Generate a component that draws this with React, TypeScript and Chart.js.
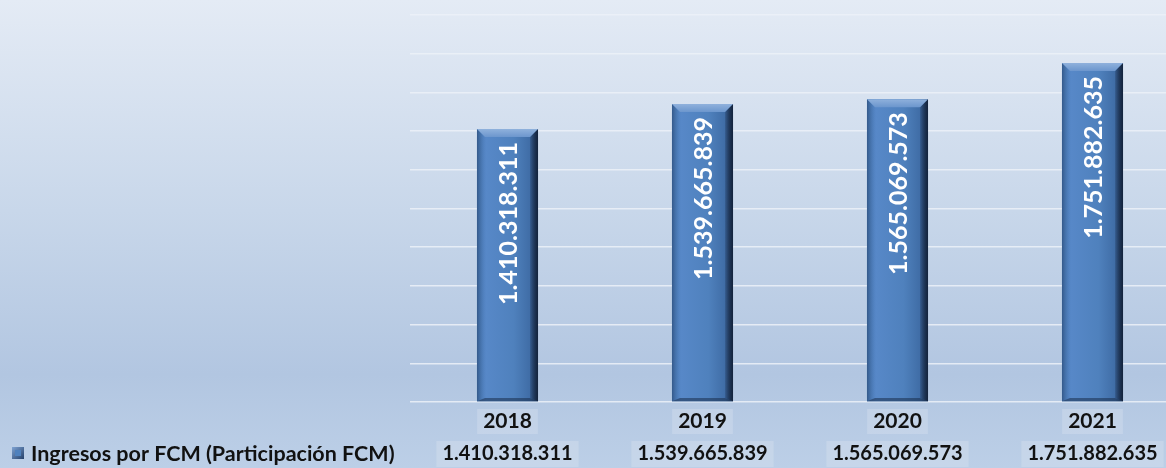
import React, { useEffect, useRef } from "react";
import { Chart, registerables } from "chart.js";

Chart.register(...registerables);

const categories = ["2018", "2019", "2020", "2021"];
const seriesLabel = "Ingresos por FCM (Participación FCM)";
const values = [1410318311, 1539665839, 1565069573, 1751882635];
const yMax = 2000000000;
const yStep = 200000000;

const FONT = "Lato, 'Open Sans', sans-serif";

function fmt(v: number): string {
  return String(Math.round(v)).replace(/\B(?=(\d{3})+(?!\d))/g, ".");
}

const bgPlugin = {
  id: "bgGrad",
  beforeDraw(chart: any) {
    const { ctx, width, height } = chart;
    const g = ctx.createLinearGradient(0, 0, 0, height);
    g.addColorStop(0, "#E4EBF5");
    g.addColorStop(0.45, "#C8D7EA");
    g.addColorStop(0.8, "#B2C6E1");
    g.addColorStop(1, "#BCCFE7");
    ctx.save();
    ctx.fillStyle = g;
    ctx.fillRect(0, 0, width, height);
    ctx.restore();
  },
};

const bevelPlugin = {
  id: "bevel",
  afterDatasetsDraw(chart: any) {
    const { ctx } = chart;
    const meta = chart.getDatasetMeta(0);
    ctx.save();
    meta.data.forEach((bar: any, i: number) => {
      const w = bar.width;
      const l = bar.x - w / 2;
      const r = bar.x + w / 2;
      const t = bar.y;
      const b = bar.base;
      const bv = 8;
      const fg = ctx.createLinearGradient(l, 0, r, 0);
      fg.addColorStop(0, "#4473AE");
      fg.addColorStop(0.15, "#5788C8");
      fg.addColorStop(0.6, "#4F81BD");
      fg.addColorStop(0.88, "#3F6CA5");
      fg.addColorStop(1, "#1E3556");
      ctx.fillStyle = fg;
      ctx.fillRect(l, t, w, b - t);
      const lg = ctx.createLinearGradient(l, 0, l + bv, 0);
      lg.addColorStop(0, "#34598A");
      lg.addColorStop(1, "rgba(79,129,189,0)");
      ctx.fillStyle = lg;
      ctx.beginPath();
      ctx.moveTo(l, t);
      ctx.lineTo(l + bv, t + bv);
      ctx.lineTo(l + bv, b - bv * 0.4);
      ctx.lineTo(l, b);
      ctx.closePath();
      ctx.fill();
      const rg = ctx.createLinearGradient(r - bv, 0, r, 0);
      rg.addColorStop(0, "rgba(30,52,86,0.3)");
      rg.addColorStop(1, "#14243D");
      ctx.fillStyle = rg;
      ctx.beginPath();
      ctx.moveTo(r, t);
      ctx.lineTo(r - bv, t + bv);
      ctx.lineTo(r - bv, b - bv * 0.4);
      ctx.lineTo(r, b);
      ctx.closePath();
      ctx.fill();
      const tg = ctx.createLinearGradient(0, t, 0, t + bv);
      tg.addColorStop(0, "#8FB1DC");
      tg.addColorStop(1, "#6C96CD");
      ctx.fillStyle = tg;
      ctx.beginPath();
      ctx.moveTo(l, t);
      ctx.lineTo(r, t);
      ctx.lineTo(r - bv, t + bv);
      ctx.lineTo(l + bv, t + bv);
      ctx.closePath();
      ctx.fill();
      ctx.fillStyle = "rgba(25,45,75,0.55)";
      ctx.beginPath();
      ctx.moveTo(l, b);
      ctx.lineTo(r, b);
      ctx.lineTo(r - bv, b - bv * 0.4);
      ctx.lineTo(l + bv, b - bv * 0.4);
      ctx.closePath();
      ctx.fill();

      ctx.save();
      ctx.translate(bar.x + 1, t + 13);
      ctx.rotate(-Math.PI / 2);
      ctx.font = `bold 25px ${FONT}`;
      ctx.fillStyle = "#FFFFFF";
      ctx.textAlign = "right";
      ctx.textBaseline = "middle";
      ctx.fillText(fmt(values[i]), 0, 0);
      ctx.restore();
    });
    ctx.restore();
  },
};

const tablePlugin = {
  id: "dataTable",
  afterDraw(chart: any) {
    const { ctx } = chart;
    const xs = chart.scales.x;
    ctx.save();
    ctx.textAlign = "center";
    ctx.textBaseline = "middle";
    categories.forEach((c, i) => {
      const x = xs.getPixelForValue(i);
      ctx.font = `bold 21px ${FONT}`;
      const wy = ctx.measureText(c).width;
      ctx.fillStyle = "rgba(225,233,243,0.3)";
      ctx.fillRect(x - wy / 2 - 6, 409, wy + 12, 25);
      ctx.fillStyle = "#111111";
      ctx.fillText(c, x, 421);
      const s = fmt(values[i]);
      ctx.font = `bold 20px ${FONT}`;
      const wv = ctx.measureText(s).width;
      ctx.fillStyle = "rgba(225,233,243,0.3)";
      ctx.fillRect(x - wv / 2 - 6, 441, wv + 12, 26);
      ctx.fillStyle = "#111111";
      ctx.fillText(s, x, 454);
    });
    const kx = 12, ky = 447, ks = 12;
    const kg = ctx.createLinearGradient(kx, ky, kx + ks, ky + ks);
    kg.addColorStop(0, "#7FA3D3");
    kg.addColorStop(1, "#24406A");
    ctx.fillStyle = kg;
    ctx.fillRect(kx, ky, ks, ks);
    ctx.fillStyle = "#4F81BD";
    ctx.fillRect(kx + 3, ky + 3, ks - 6, ks - 6);
    ctx.textAlign = "left";
    ctx.font = `bold 21.5px ${FONT}`;
    ctx.fillStyle = "#111111";
    ctx.fillText(seriesLabel, 31, 454);
    ctx.restore();
  },
};

export default function App() {
  const ref = useRef<HTMLCanvasElement | null>(null);
  useEffect(() => {
    const canvas = ref.current;
    if (!canvas) return;
    const chart = new Chart(canvas, {
      type: "bar",
      data: {
        labels: categories,
        datasets: [
          {
            label: seriesLabel,
            data: values,
            backgroundColor: "#4F81BD",
            borderWidth: 0,
            barPercentage: 0.313,
            categoryPercentage: 1,
          },
        ],
      },
      options: {
        responsive: false,
        animation: false,
        devicePixelRatio: 1,
        layout: { padding: { left: 410, top: 15, right: 1, bottom: 0 } },
        plugins: {
          legend: { display: false },
          tooltip: { enabled: false },
        },
        scales: {
          x: {
            grid: { display: false },
            border: { display: false },
            ticks: { display: false },
            afterFit(scale: any) {
              scale.height = 66;
            },
          },
          y: {
            min: 0,
            max: yMax,
            ticks: { display: false, stepSize: yStep },
            border: { display: false },
            grid: { color: "rgba(236,241,248,0.85)", lineWidth: 1.6, drawTicks: false },
            afterFit(scale: any) {
              scale.width = 0;
            },
          },
        },
      },
      plugins: [bgPlugin, bevelPlugin, tablePlugin],
    });
    return () => chart.destroy();
  }, []);
  return (
    <div
      style={{
        position: "fixed",
        left: 0,
        top: 0,
        width: 1166,
        height: 468,
        overflow: "hidden",
      }}
    >
      <canvas ref={ref} width={1191} height={468} style={{ display: "block" }} />
    </div>
  );
}
